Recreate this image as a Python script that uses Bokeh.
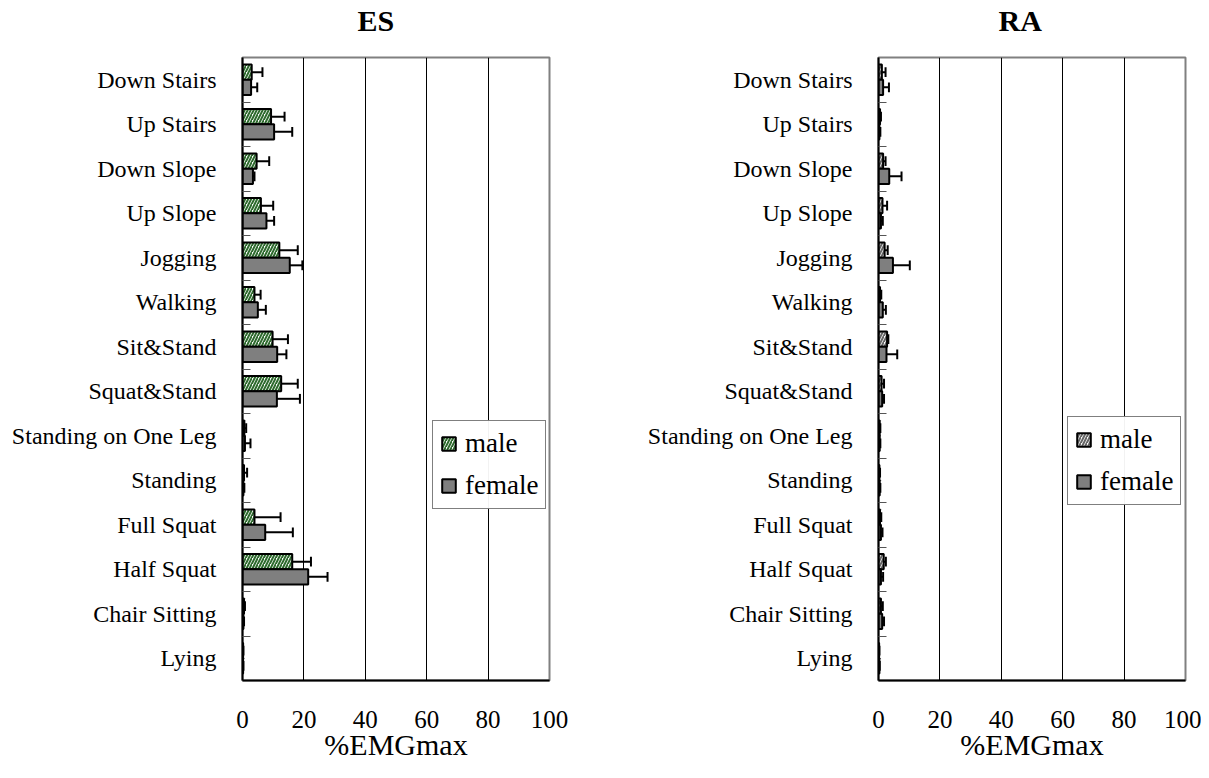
from bokeh.plotting import figure
from bokeh.layouts import row
from bokeh.models import FixedTicker, Range1d, Legend, LegendItem, ColumnDataSource, Title
from bokeh.embed import file_html
from bokeh.resources import INLINE

categories = ["Down Stairs", "Up Stairs", "Down Slope", "Up Slope", "Jogging", "Walking",
              "Sit&Stand", "Squat&Stand", "Standing on One Leg", "Standing", "Full Squat",
              "Half Squat", "Chair Sitting", "Lying"]

es_male = [3.0, 9.3, 4.6, 6.0, 12.0, 3.9, 9.8, 12.6, 0.6, 0.5, 3.9, 16.2, 0.5, 0.2]
es_male_sd = [3.5, 4.4, 4.1, 4.0, 6.0, 2.0, 5.0, 5.4, 0.6, 1.0, 8.5, 6.1, 0.3, 0.1]
es_female = [2.8, 10.3, 3.4, 7.8, 15.4, 5.0, 11.3, 11.2, 0.8, 0.3, 7.4, 21.4, 0.3, 0.2]
es_female_sd = [2.0, 5.9, 0.5, 2.5, 4.1, 2.6, 3.0, 7.5, 1.8, 0.3, 9.0, 6.3, 0.2, 0.1]

ra_male = [1.1, 0.5, 1.5, 1.3, 2.0, 0.5, 2.8, 1.0, 0.4, 0.3, 0.5, 1.7, 0.8, 0.2]
ra_male_sd = [1.2, 0.3, 0.8, 1.5, 1.0, 0.4, 0.4, 0.8, 0.2, 0.2, 0.4, 0.7, 0.6, 0.1]
ra_female = [1.5, 0.3, 3.5, 0.8, 4.7, 1.4, 2.6, 1.2, 0.4, 0.4, 0.8, 0.8, 1.2, 0.3]
ra_female_sd = [1.9, 0.3, 4.0, 0.6, 5.5, 1.0, 3.5, 0.6, 0.2, 0.2, 0.5, 0.7, 0.6, 0.1]

x_ticks = [0, 20, 40, 60, 80, 100]

FONT = "Liberation Serif"


def panel(title, title_offset, male, male_sd, female, female_sd, hatch_color, width,
          border_left, legend_xy):
    n = len(categories)
    centers = [n - 1 - i + 0.5 for i in range(n)]
    off = 0.17
    h = 0.34
    cap = 0.11
    p = figure(width=width, height=770, output_backend="svg", toolbar_location=None,
               x_range=Range1d(0, 100), y_range=Range1d(0, n),
               min_border_left=border_left, min_border_right=width - border_left - 307,
               min_border_top=57, min_border_bottom=90)
    # spacer between frame and title (inner), then title (outer)
    p.add_layout(Title(text=" ", text_font_size="12px", standoff=4), "above")
    p.title = Title(text=title, text_font=FONT, text_font_size="30px", text_color="black",
                    text_font_style="bold", align="left", offset=title_offset, standoff=2)
    ym = [c + off for c in centers]
    yf = [c - off for c in centers]
    src = ColumnDataSource(dict(
        ym=ym, yf=yf, male=male, female=female,
        me=[a + b for a, b in zip(male, male_sd)],
        fe=[a + b for a, b in zip(female, female_sd)],
        ym0=[y - cap for y in ym], ym1=[y + cap for y in ym],
        yf0=[y - cap for y in yf], yf1=[y + cap for y in yf]))
    # error bars (drawn behind bars)
    p.segment(x0="male", x1="me", y0="ym", y1="ym", source=src, line_color="black", line_width=2)
    p.segment(x0="me", x1="me", y0="ym0", y1="ym1", source=src, line_color="black", line_width=2)
    p.segment(x0="female", x1="fe", y0="yf", y1="yf", source=src, line_color="black", line_width=2)
    p.segment(x0="fe", x1="fe", y0="yf0", y1="yf1", source=src, line_color="black", line_width=2)
    rm = p.hbar(y="ym", right="male", left=0, height=h, source=src,
                fill_color="white", line_color="black", line_width=2,
                hatch_pattern="right_diagonal_line", hatch_color=hatch_color,
                hatch_scale=6, hatch_weight=2)
    rf = p.hbar(y="yf", right="female", left=0, height=h, source=src,
                fill_color="#7f7f7f", line_color="black", line_width=2)

    p.xaxis.ticker = FixedTicker(ticks=x_ticks)
    p.xaxis.major_tick_line_color = None
    p.xaxis.minor_tick_line_color = None
    p.xaxis.major_label_text_font = FONT
    p.xaxis.major_label_text_font_size = "25px"
    p.xaxis.major_label_text_color = "black"
    p.xaxis.major_label_standoff = 24
    p.xaxis.axis_label = "%EMGmax"
    p.xaxis.axis_label_text_font = FONT
    p.xaxis.axis_label_text_font_size = "30px"
    p.xaxis.axis_label_text_color = "black"
    p.xaxis.axis_label_text_font_style = "normal"
    p.xaxis.axis_label_standoff = -3
    p.xaxis.axis_line_color = "black"
    p.xaxis.axis_line_width = 2

    p.yaxis.ticker = FixedTicker(ticks=centers, minor_ticks=list(range(1, n)))
    p.yaxis.major_label_overrides = {c: categories[i] for i, c in enumerate(centers)}
    p.yaxis.major_tick_line_color = None
    p.yaxis.minor_tick_in = 8
    p.yaxis.minor_tick_out = 0
    p.yaxis.minor_tick_line_color = "#555555"
    p.yaxis.major_label_text_font = FONT
    p.yaxis.major_label_text_font_size = "24px"
    p.yaxis.major_label_text_color = "black"
    p.yaxis.major_label_standoff = 20
    p.yaxis.axis_line_color = "black"
    p.yaxis.axis_line_width = 2

    p.ygrid.grid_line_color = None
    p.xgrid.ticker = FixedTicker(ticks=x_ticks)
    p.xgrid.grid_line_color = "black"
    p.xgrid.grid_line_width = 1
    p.outline_line_color = "#808080"
    p.outline_line_width = 2

    legend = Legend(items=[LegendItem(label="male", renderers=[rm]),
                           LegendItem(label="female", renderers=[rf])],
                    location=legend_xy, label_text_font=FONT, label_text_font_size="27px",
                    label_text_color="black",
                    glyph_width=17, glyph_height=17, label_height=28, spacing=11,
                    padding=7, margin=0, label_standoff=8,
                    border_line_color="black", border_line_width=1)
    p.add_layout(legend)
    return p


p1 = panel("ES", 115, es_male, es_male_sd, es_female, es_female_sd, "#2e6b2e", 608, 242,
           (190, 171))
p2 = panel("RA", 120, ra_male, ra_male_sd, ra_female, ra_female_sd, "#666666", 593, 270,
           (189, 175))

layout = row(p1, p2)
open("out.html", "w").write(file_html(layout, INLINE))
